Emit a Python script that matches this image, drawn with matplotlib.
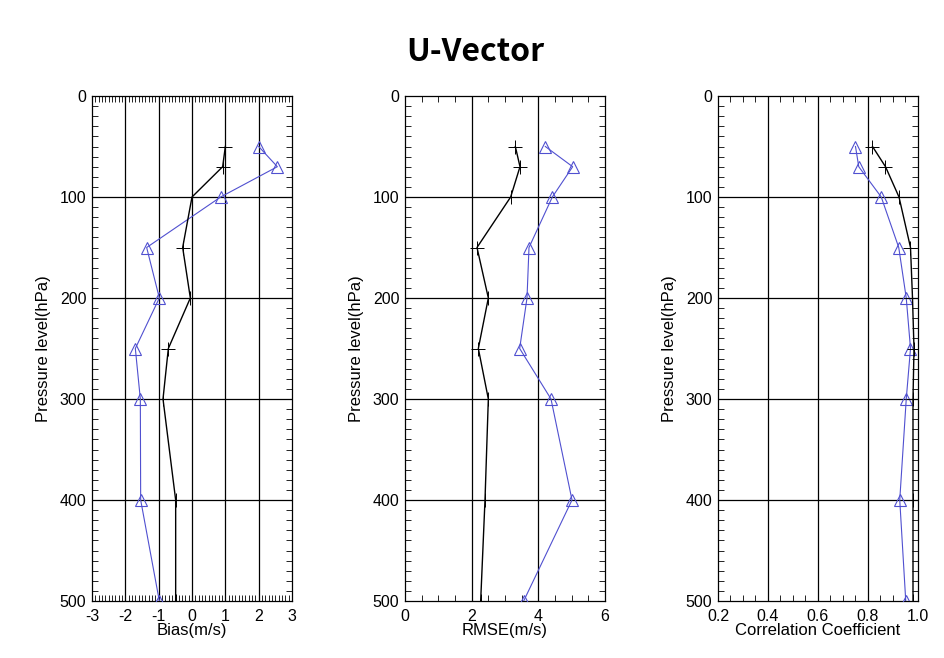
import matplotlib
matplotlib.use("Agg")
import matplotlib.pyplot as plt
from matplotlib.ticker import MultipleLocator

# pressure levels (hPa)
levels = [50, 70, 100, 150, 200, 250, 300, 400, 500]

# black (+) and blue (triangle) series per panel
bias_black = [1.0, 0.92, 0.0, -0.28, -0.05, -0.71, -0.87, -0.49, -0.49]
bias_blue = [2.0, 2.56, 0.86, -1.36, -0.98, -1.70, -1.55, -1.54, -0.98]
rmse_black = [3.31, 3.45, 3.17, 2.16, 2.50, 2.20, 2.50, 2.40, 2.27]
rmse_blue = [4.21, 5.03, 4.42, 3.72, 3.66, 3.44, 4.38, 5.01, 3.56]
corr_black = [0.818, 0.87, 0.924, 0.97, 0.978, 0.984, 0.98, 0.98, 0.98]
corr_blue = [0.75, 0.763, 0.853, 0.923, 0.953, 0.97, 0.953, 0.927, 0.951]

y_ticks = [0, 100, 200, 300, 400, 500]

panels = [
    dict(black=bias_black, blue=bias_blue, xlim=(-3, 3), major=1, minor=0.1,
         grid=[-2, -1, 0, 1, 2], xlabel="Bias(m/s)", fmt="{:g}"),
    dict(black=rmse_black, blue=rmse_blue, xlim=(0, 6), major=2, minor=0.5,
         grid=[2, 4], xlabel="RMSE(m/s)", fmt="{:g}"),
    dict(black=corr_black, blue=corr_blue, xlim=(0.2, 1.0), major=0.2, minor=0.05,
         grid=[0.4, 0.6, 0.8], xlabel="Correlation Coefficient", fmt="{:.1f}"),
]

lefts = [92, 405, 718]
fw, fh = 945, 658

plt.rcParams['font.family'] = ['Liberation Sans', 'DejaVu Sans']
fig = plt.figure(figsize=(fw / 100, fh / 100), dpi=100)

fig.text(475 / fw, 1 - 52 / fh, "U-Vector", ha="center", va="center",
         fontsize=23, fontweight="bold", family=['Noto Sans CJK KR', 'DejaVu Sans'])

blue = "#5050d0"

for left, p in zip(lefts, panels):
    ax = fig.add_axes([left / fw, (fh - 601) / fh, 200 / fw, 505 / fh])
    ax.set_xlim(*p["xlim"])
    ax.set_ylim(500, 0)

    for g in p["grid"]:
        ax.axvline(g, color="black", lw=0.9, zorder=1)
    for g in [100, 200, 300, 400]:
        ax.axhline(g, color="black", lw=0.9, zorder=1)

    ax.plot(p["blue"], levels, color=blue, lw=0.8, marker="^", ms=9,
            mfc="none", mec=blue, mew=0.8, zorder=3)
    ax.plot(p["black"], levels, color="black", lw=1.0, marker="+", ms=10,
            mew=0.7, zorder=4)

    ax.set_yticks(y_ticks)
    ax.yaxis.set_minor_locator(MultipleLocator(10))
    ax.xaxis.set_minor_locator(MultipleLocator(p["minor"]))
    lo, hi = p["xlim"]
    xt = [round(lo + i * p["major"], 3) for i in range(int(round((hi - lo) / p["major"])) + 1)]
    ax.set_xticks(xt)
    ax.set_xticklabels([p["fmt"].format(v) for v in xt])

    ax.tick_params(which="both", direction="in", top=True, right=True,
                   labelsize=11.5, pad=4)
    ax.tick_params(which="major", length=0)
    ax.tick_params(which="minor", length=4, width=0.6)
    ax.tick_params(axis="x", pad=6)
    for s in ax.spines.values():
        s.set_linewidth(0.9)

    ax.set_xlabel(p["xlabel"], fontsize=12, labelpad=-1)
    ax.set_ylabel("Pressure level(hPa)", fontsize=12, labelpad=6)

fig.savefig("out.png", dpi=100)
